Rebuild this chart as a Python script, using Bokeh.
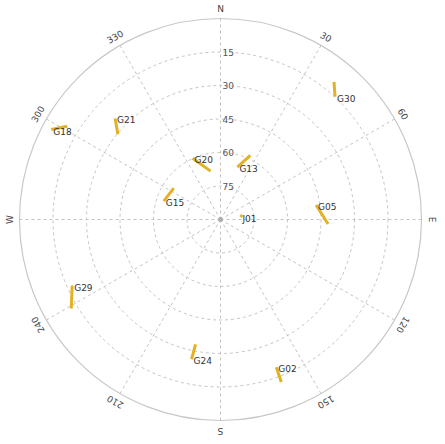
import numpy as np
from bokeh.plotting import figure
from bokeh.models import Range1d, ColumnDataSource
from bokeh.core.properties import value
from bokeh.embed import file_html
from bokeh.resources import INLINE

# Satellite tracks: (azimuth deg, elevation deg) at start and end (label at end)
sat_ids  = ["G30", "G21", "G18", "G20", "G13", "G15", "J01", "G05", "G29", "G24", "G02"]
az_start = [39.5, 309.7, 301.3, 348.4, 24.9, 303.8, 78.4, 92.4, 239.2, 191.3, 159.5]
el_start = [10.1, 30.3, 9.7, 67.9, 58.3, 64.8, 80.0, 41.8, 12.2, 33.0, 12.3]
az_end   = [43.0, 313.8, 298.0, 335.5, 17.9, 288.0, 82.9, 81.4, 246.0, 191.7, 159.3]
el_end   = [14.8, 24.6, 4.2, 59.9, 65.4, 63.3, 81.0, 46.7, 17.3, 26.1, 19.3]

ring_elev = [15, 30, 45, 60, 75]
ring_labels = ["15", "30", "45", "60", "75"]
az_ticks = [0, 30, 60, 90, 120, 150, 180, 210, 240, 270, 300, 330]
az_labels = ["N", "30", "60", "E", "120", "150", "S", "210", "240", "W", "300", "330"]


def polar(az, el):
    az = np.radians(np.asarray(az, dtype=float))
    r = (90.0 - np.asarray(el, dtype=float)) / 90.0
    return r * np.sin(az), r * np.cos(az)


W, H = 437, 436
S = 201.0          # pixels per unit radius
cx, cy = 220.0, 219.0

p = figure(width=W, height=H, output_backend="svg", toolbar_location=None,
           x_range=Range1d(-cx / S, (W - cx) / S),
           y_range=Range1d(-(H - cy) / S, cy / S),
           min_border=0, outline_line_color=None)
p.axis.visible = False
p.grid.visible = False
p.background_fill_color = "white"

grid_col = "#c4c4c4"
# dashed elevation rings
ring_r = [(90 - e) / 90.0 for e in ring_elev]
p.circle(x=[0] * len(ring_r), y=[0] * len(ring_r), radius=ring_r,
         fill_color=None, line_color=grid_col, line_dash="3 3", line_width=1)
# outer ring
p.circle(x=[0], y=[0], radius=[1.0], fill_color=None, line_color="#c8c8c8", line_width=1.2)

# radial spokes
sx, sy = polar(az_ticks, [0] * len(az_ticks))
p.segment(x0=[0] * len(az_ticks), y0=[0] * len(az_ticks), x1=sx, y1=sy,
          line_color=grid_col, line_dash="3 3", line_width=1)

# center dot
p.scatter(x=[0], y=[0], size=4, color="#b0b0b0")

# elevation labels
lx, ly = polar([0] * len(ring_elev), ring_elev)
p.text(x=lx, y=ly, text=ring_labels, x_offset=2, text_align="left", text_baseline="middle",
       text_font=value("DejaVu Sans"), text_font_size="9px", text_color="#555555")

# azimuth labels
ar = 211.0 / S
azr = np.radians(az_ticks)
p.text(x=ar * np.sin(azr), y=ar * np.cos(azr), text=az_labels, angle=-azr,
       text_align="center", text_baseline="middle",
       text_font=value("DejaVu Sans"), text_font_size="9px", text_color="#444444")

# satellite tracks
x0, y0 = polar(az_start, el_start)
x1, y1 = polar(az_end, el_end)
src = ColumnDataSource(dict(x0=x0, y0=y0, x1=x1, y1=y1, name=sat_ids))
p.segment(x0="x0", y0="y0", x1="x1", y1="y1", source=src,
          line_color="#e2b224", line_width=3)
p.text(x="x1", y="y1", text="name", source=src, x_offset=2, y_offset=2,
       text_align="left", text_baseline="middle",
       text_font=value("DejaVu Sans"), text_font_size="9px", text_color="#333333")

open("out.html", "w").write(file_html(p, INLINE))
